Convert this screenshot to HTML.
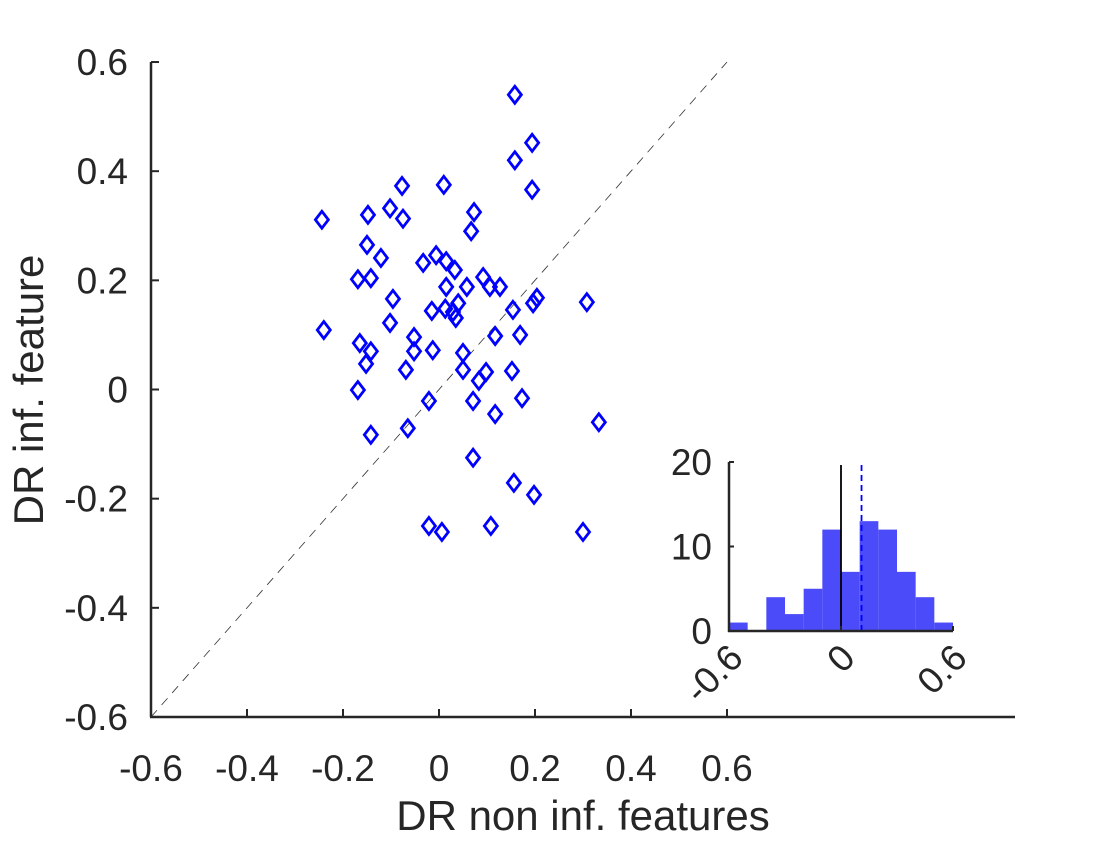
<!DOCTYPE html>
<html><head><meta charset="utf-8"><style>
body{margin:0;background:#fff;}
svg text{font-family:"Liberation Sans",sans-serif;fill:#262626;}
</style></head><body>
<svg width="1120" height="840" viewBox="0 0 1120 840" xmlns="http://www.w3.org/2000/svg">
<g id="main"></g>
<script>
const ptsX=[0.158,0.194,0.158,0.194,-0.077,0.010,-0.244,-0.148,-0.102,-0.075,0.073,0.067,-0.15,-0.121,-0.169,-0.142,-0.033,-0.006,0.015,0.033,-0.096,0.058,0.092,0.106,0.127,0.015,0.204,0.196,0.308,-0.015,0.013,0.029,0.035,0.04,0.154,-0.24,-0.102,-0.052,-0.165,-0.142,-0.152,-0.052,-0.013,0.117,0.169,0.05,-0.069,0.05,0.098,0.083,0.152,-0.169,-0.021,0.071,0.173,0.117,0.333,-0.142,-0.065,0.071,0.156,0.198,-0.021,0.006,0.108,0.3];
const ptsY=[0.54,0.452,0.42,0.366,0.373,0.375,0.311,0.32,0.332,0.313,0.325,0.29,0.265,0.241,0.202,0.204,0.232,0.246,0.235,0.219,0.166,0.188,0.206,0.188,0.188,0.188,0.168,0.158,0.16,0.144,0.148,0.142,0.131,0.158,0.146,0.109,0.122,0.096,0.085,0.07,0.047,0.07,0.072,0.098,0.1,0.067,0.036,0.036,0.032,0.016,0.034,-0.001,-0.021,-0.021,-0.016,-0.045,-0.06,-0.083,-0.071,-0.125,-0.171,-0.193,-0.25,-0.261,-0.25,-0.261];
const xTicks=[-0.6,-0.4,-0.2,0,0.2,0.4,0.6];
const xTickLabels=["-0.6","-0.4","-0.2","0","0.2","0.4","0.6"];
const yTicks=[-0.6,-0.4,-0.2,0,0.2,0.4,0.6];
const yTickLabels=["-0.6","-0.4","-0.2","0","0.2","0.4","0.6"];
const histEdges=[-0.6,-0.5,-0.4,-0.3,-0.2,-0.1,0,0.1,0.2,0.3,0.4,0.5,0.6];
const histCounts=[1,0,4,2,5,12,7,13,12,7,4,1];
const histMean=[0.11];
const inXTicks=[-0.6,0,0.6];
const inXLabels=["-0.6","0","0.6"];
const inYTicks=[0,10,20];
const inYLabels=["0","10","20"];

const NS="http://www.w3.org/2000/svg";
const g=document.getElementById('main');
function mk(tag,attrs,name,parent){const e=document.createElementNS(NS,tag);for(const k in attrs)e.setAttribute(k,attrs[k]);


(parent||g).appendChild(e);return e;}
const sx=v=>151+(v+0.6)*480, sy=v=>389.5-v*545.8;
mk('line',{x1:sx(-0.6),y1:sy(-0.6),x2:sx(0.6),y2:sy(0.6),stroke:'#333','stroke-width':0.8,'stroke-dasharray':'9 7'},'identity-line');
ptsX.forEach((x,i)=>{const cx=sx(x),cy=sy(ptsY[i]);
mk('path',{d:`M${cx} ${cy-8.5}L${cx+6.5} ${cy}L${cx} ${cy+8.5}L${cx-6.5} ${cy}Z`,fill:'none',stroke:'#0000ff','stroke-width':2.8},'data-point');});
mk('line',{x1:151,y1:62,x2:151,y2:717,stroke:'#262626','stroke-width':2.5},'y-axis');
mk('line',{x1:150,y1:717,x2:1015,y2:717,stroke:'#262626','stroke-width':2.5},'x-axis');
xTicks.forEach((v,i)=>{mk('line',{x1:sx(v),y1:717,x2:sx(v),y2:709,stroke:'#262626','stroke-width':2},'x-tick');
const t=mk('text',{x:sx(v),y:781,'font-size':37,'text-anchor':'middle'},'x-tick-label');t.textContent=xTickLabels[i];});
yTicks.forEach((v,i)=>{mk('line',{x1:151,y1:sy(v),x2:159,y2:sy(v),stroke:'#262626','stroke-width':2},'y-tick');
const t=mk('text',{x:128,y:sy(v)+13,'font-size':37,'text-anchor':'end'},'y-tick-label');t.textContent=yTickLabels[i];});
let t=mk('text',{x:583,y:830,'font-size':42,'text-anchor':'middle'},'x-axis-title');t.textContent='DR non inf. features';
t=mk('text',{x:0,y:0,'font-size':42,'text-anchor':'middle',transform:'translate(43,390) rotate(-90)'},'y-axis-title');t.textContent='DR inf. feature';
const ix=v=>729+(v+0.6)/1.2*224, iy=v=>631-v/20*169;
histCounts.forEach((c,i)=>{if(c>0)mk('rect',{x:ix(histEdges[i]),y:iy(c),width:ix(histEdges[i+1])-ix(histEdges[i]),height:iy(0)-iy(c),fill:'#4b4bfa'},'hist-bar');});
mk('line',{x1:ix(0),y1:iy(0),x2:ix(0),y2:465,stroke:'#000','stroke-width':1.8},'inset-zero-line');
mk('line',{x1:ix(histMean[0]),y1:iy(0),x2:ix(histMean[0]),y2:465,stroke:'#0000ff','stroke-width':1.8,'stroke-dasharray':'6 4'},'inset-mean-line');
mk('line',{x1:729,y1:462,x2:729,y2:632,stroke:'#262626','stroke-width':2.5},'inset-y-axis');
mk('line',{x1:728,y1:631,x2:953,y2:631,stroke:'#262626','stroke-width':2.5},'inset-x-axis');
inXTicks.forEach((v,i)=>{mk('line',{x1:ix(v),y1:631,x2:ix(v),y2:626,stroke:'#262626','stroke-width':2},'inset-x-tick');
const t=mk('text',{x:0,y:0,'font-size':37,'text-anchor':'end',transform:`translate(${ix(v)+16},${660}) rotate(-45)`},'inset-x-tick-label');t.textContent=inXLabels[i];});
inYTicks.forEach((v,i)=>{mk('line',{x1:729,y1:iy(v),x2:734,y2:iy(v),stroke:'#262626','stroke-width':2},'inset-y-tick');
const t=mk('text',{x:712,y:iy(v)+13,'font-size':37,'text-anchor':'end'},'inset-y-tick-label');t.textContent=inYLabels[i];});
</script>
</svg>
</body></html>
